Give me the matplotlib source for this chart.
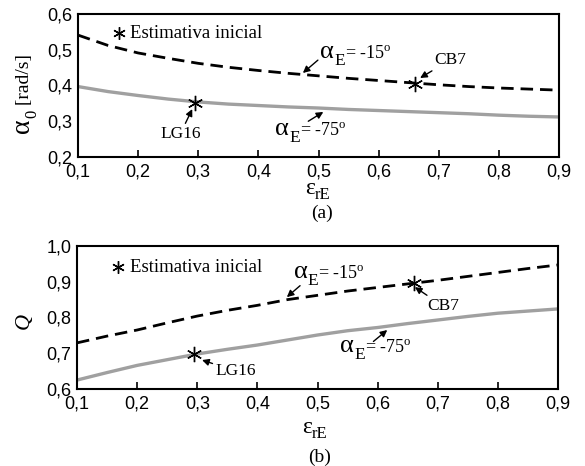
import matplotlib
matplotlib.use("Agg")
import matplotlib.pyplot as plt
from matplotlib.ticker import FixedLocator, FuncFormatter

plt.rcParams['mathtext.fontset'] = 'custom'
plt.rcParams['mathtext.rm'] = 'Liberation Serif'
plt.rcParams['mathtext.it'] = 'Liberation Serif:italic'
plt.rcParams['font.family'] = 'Liberation Sans'

# ---------------- data ----------------
eps = [0.1, 0.15, 0.2, 0.25, 0.3, 0.35, 0.4, 0.45, 0.5, 0.55, 0.6, 0.65, 0.7, 0.75, 0.8, 0.85, 0.9]
w0_m15 = [0.541, 0.512, 0.491, 0.476, 0.462, 0.451, 0.442, 0.434, 0.427, 0.420, 0.414, 0.408, 0.402, 0.397, 0.393, 0.390, 0.387]
w0_m75 = [0.397, 0.383, 0.372, 0.362, 0.354, 0.348, 0.344, 0.340, 0.337, 0.333, 0.330, 0.327, 0.324, 0.321, 0.317, 0.314, 0.312]
Q_m15 = [0.729, 0.748, 0.765, 0.785, 0.804, 0.820, 0.834, 0.850, 0.862, 0.874, 0.884, 0.894, 0.904, 0.915, 0.926, 0.937, 0.947]
Q_m75 = [0.625, 0.646, 0.666, 0.682, 0.698, 0.711, 0.723, 0.737, 0.751, 0.763, 0.772, 0.783, 0.793, 0.803, 0.812, 0.818, 0.824]

cb7_x, lg16_x = 0.66, 0.295
cb7_w0, lg16_w0 = 0.405, 0.352
cb7_Q, lg16_Q = 0.897, 0.699
init_x = 0.168
init_w0, init_Q = 0.546, 0.941

xticks = [0.1, 0.2, 0.3, 0.4, 0.5, 0.6, 0.7, 0.8, 0.9]
w0_ticks = [0.2, 0.3, 0.4, 0.5, 0.6]
Q_ticks = [0.6, 0.7, 0.8, 0.9, 1.0]

# ---------------- figure ----------------
W, H = 585, 466
fig = plt.figure(figsize=(W / 100, H / 100), dpi=100)
ax1 = fig.add_axes([78 / W, 1 - 157 / H, 481 / W, 143 / H])
ax2 = fig.add_axes([77 / W, 1 - 389 / H, 481 / W, 143 / H])
renderer = fig.canvas.get_renderer()

gray = '#a0a0a0'
serif = 'Liberation Serif'
fmt = FuncFormatter(lambda v, p: f"{v:.1f}".replace('.', ','))


def style(ax, ylim, yticks):
    ax.set_xlim(0.1, 0.9)
    ax.set_ylim(*ylim)
    ax.xaxis.set_major_locator(FixedLocator(xticks))
    ax.yaxis.set_major_locator(FixedLocator(yticks))
    ax.xaxis.set_major_formatter(fmt)
    ax.yaxis.set_major_formatter(fmt)
    ax.tick_params(axis='x', direction='in', length=5, width=1.2, labelsize=13, pad=4.5)
    ax.tick_params(axis='y', length=0, labelsize=13, pad=4)
    for s in ax.spines.values():
        s.set_linewidth(1.5)


def compose(pieces, x0, y0, rotation=0, transform=None):
    """Place text pieces in sequence. pieces: (text, size, drop_px, style).
    x0, y0 given in the coords of transform (default: figure pixels, origin top-left)."""
    if transform is None:
        px, py = x0, y0
    else:
        disp = transform.transform((x0, y0))
        px, py = disp[0], H - disp[1]
    adv = 0.0
    for txt, size, drop, fstyle in pieces:
        if rotation == 0:
            xx, yy = px + adv, py + drop
        else:
            xx, yy = px + drop, py - adv
        t = fig.text(xx / W, 1 - yy / H, txt, fontsize=size, family=serif, style=fstyle,
                     rotation=rotation, rotation_mode='anchor', ha='left', va='baseline')
        bb = t.get_window_extent(renderer)
        adv += (bb.width if rotation == 0 else bb.height)


arrowp = dict(arrowstyle='-|>', color='black', lw=1.0, mutation_scale=10, shrinkA=0, shrinkB=0)
star = dict(ls='none', marker=(6, 2, 0), color='black', mew=1.0)


def alpha_label(ax, x, y, deg):
    compose([('α', 19, 0, 'normal'), ('E', 12.5, 7, 'normal'),
             ('= ' + deg + '$^{\\mathrm{o}}$', 13, 0, 'normal')],
            x, y, transform=ax.transData)


# ---------------- top panel ----------------
ax1.plot(eps, w0_m15, color='black', ls=(0, (4.5, 2.5)), lw=2.0)
ax1.plot(eps, w0_m75, color=gray, lw=2.4)
style(ax1, (0.2, 0.6), w0_ticks)
ax1.plot([cb7_x, lg16_x], [cb7_w0, lg16_w0], ms=11, **star)
ax1.plot([init_x], [init_w0], ms=9, **star)
ax1.text(0.186, init_w0, 'Estimativa inicial', family=serif, fontsize=13.5, va='center', ha='left')
ax1.annotate('', xy=(0.474, 0.435), xytext=(0.499, 0.471), arrowprops=arrowp)
alpha_label(ax1, 0.503, 0.477, '-15')
ax1.annotate('CB7', xy=(0.669, 0.421), xytext=(0.692, 0.471),
             fontsize=12.5, family=serif, ha='left', va='center', arrowprops=arrowp)
ax1.annotate('LG16', xy=(0.29, 0.334), xytext=(0.27, 0.264),
             fontsize=12.5, family=serif, ha='center', va='center', arrowprops=arrowp)
ax1.annotate('', xy=(0.508, 0.326), xytext=(0.483, 0.300), arrowprops=arrowp)
alpha_label(ax1, 0.428, 0.262, '-75')

# ---------------- bottom panel ----------------
ax2.plot(eps, Q_m15, color='black', ls=(0, (4.5, 2.5)), lw=2.0)
ax2.plot(eps, Q_m75, color=gray, lw=2.4)
style(ax2, (0.6, 1.0), Q_ticks)
ax2.plot([cb7_x, lg16_x], [cb7_Q, lg16_Q], ms=11, **star)
ax2.plot([init_x], [init_Q], ms=9, **star)
ax2.text(0.188, init_Q, 'Estimativa inicial', family=serif, fontsize=13.5, va='center', ha='left')
ax2.annotate('', xy=(0.449, 0.857), xytext=(0.471, 0.889), arrowprops=arrowp)
alpha_label(ax2, 0.461, 0.910, '-15')
ax2.annotate('CB7', xy=(0.662, 0.885), xytext=(0.682, 0.832),
             fontsize=12.5, family=serif, ha='left', va='center', arrowprops=arrowp)
ax2.annotate('LG16', xy=(0.308, 0.681), xytext=(0.330, 0.650),
             fontsize=12.5, family=serif, ha='left', va='center', arrowprops=arrowp)
ax2.annotate('', xy=(0.616, 0.765), xytext=(0.593, 0.733), arrowprops=arrowp)
alpha_label(ax2, 0.538, 0.703, '-75')

# ---------------- axis labels ----------------
compose([('α', 20, 0, 'normal'), ('0', 12, 7, 'normal'), (' [rad/s]', 14, 0, 'normal')], 29, 133, rotation=90)
compose([('Q', 16, 0, 'italic')], 29, 329, rotation=90)
compose([('ε', 17, 0, 'normal'), ('rE', 12, 5, 'normal')], 305, 194)
compose([('ε', 17, 0, 'normal'), ('rE', 12, 5, 'normal')], 302, 433)
fig.text(322 / W, 1 - 213 / H, '(a)', family=serif, fontsize=14, ha='center', va='center')
fig.text(320 / W, 1 - 457 / H, '(b)', family=serif, fontsize=14, ha='center', va='center')

fig.savefig('out.png', dpi=100)
